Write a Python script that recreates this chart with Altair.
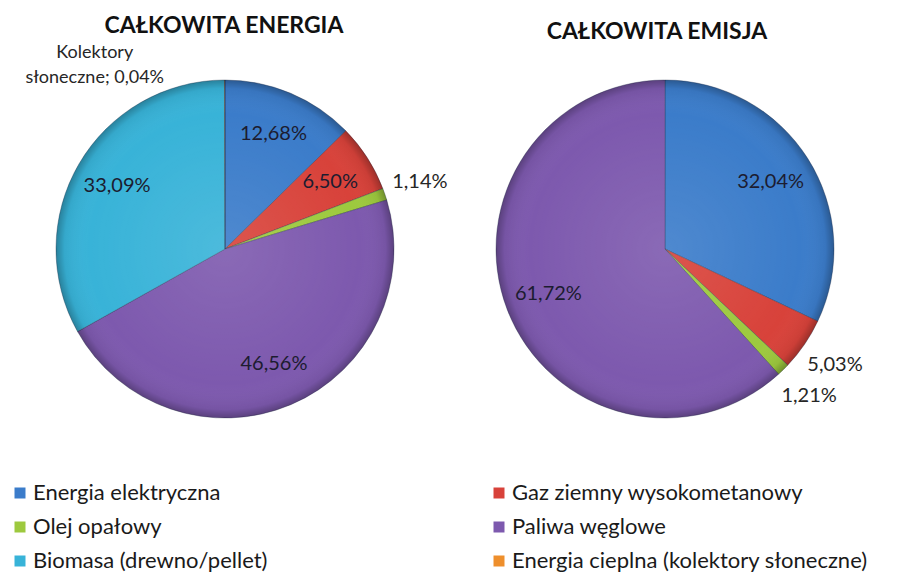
import math
import altair as alt
import pandas as pd

categories = [
    "Energia elektryczna",
    "Gaz ziemny wysokometanowy",
    "Olej opałowy",
    "Paliwa węglowe",
    "Biomasa (drewno/pellet)",
    "Energia cieplna (kolektory słoneczne)",
]
colors = ["#3b7cca", "#d8423a", "#9dc93e", "#7d59ae", "#38b3d8", "#ee8f2c"]

energia_values = [12.68, 6.50, 1.14, 46.56, 33.09, 0.04]
emisja_values = [32.04, 5.03, 1.21, 61.72, 0.0, 0.0]
pies = ["energia", "emisja"]
titles = ["CAŁKOWITA ENERGIA", "CAŁKOWITA EMISJA"]

# label styling choices
outside = {("energia", "Olej opałowy"), ("emisja", "Gaz ziemny wysokometanowy"), ("emisja", "Olej opałowy")}
special = {("energia", "Energia cieplna (kolektory słoneczne)"): "Kolektory\nsłoneczne; "}


def fmt(v):
    return f"{v:.2f}".replace(".", ",") + "%"


rows = []
for pie, vals in zip(pies, [energia_values, emisja_values]):
    for i, (c, v) in enumerate(zip(categories, vals)):
        if v <= 0:
            continue
        lab = fmt(v)
        key = (pie, c)
        rows.append({
            "pie": pie, "category": c, "value": v, "idx": i,
            "lab_in": "" if (key in outside or key in special) else lab,
            "lab_out": lab if key in outside else "",
            "lab_sp": special[key] + lab if key in special else "",
        })
df = pd.DataFrame(rows)

FONT = "Lato"
R = 169
centers = {"energia": (217, 241), "emisja": (657, 241)}

color_scale = alt.Scale(domain=categories, range=colors)
legend = alt.Legend(
    orient="none", legendX=1, legendY=474, columns=2, direction="horizontal", title=None,
    symbolType="square", symbolSize=121, symbolStrokeWidth=0,
    labelFont=FONT, labelFontSize=22, labelColor="#1a1a1a",
    columnPadding=220, rowPadding=12, labelOffset=2, labelLimit=420,
)

shade = {
    "gradient": "radial", "x1": 0.5, "y1": 0.5, "r1": 0, "x2": 0.5, "y2": 0.5, "r2": 0.5,
    "stops": [
        {"offset": 0, "color": "rgba(255,255,255,0.10)"},
        {"offset": 0.8, "color": "rgba(255,255,255,0)"},
        {"offset": 0.95, "color": "rgba(0,0,0,0.06)"},
        {"offset": 1, "color": "rgba(0,0,0,0.28)"},
    ],
}

layers = []
for k, pie in enumerate(pies):
    cx, cy = centers[pie]
    base = alt.Chart(df).transform_filter(alt.datum.pie == pie)
    theta = alt.Theta("value:Q", stack=True)
    order = alt.Order("idx:Q", sort="ascending")
    arcs = base.mark_arc(radius=R, stroke="#1f2a44", strokeOpacity=0.35, strokeWidth=1).encode(
        theta=theta, order=order,
        color=alt.Color("category:N", scale=color_scale, legend=legend if k == 0 else None),
        x=alt.value(cx), y=alt.value(cy),
    )
    overlay = alt.Chart(pd.DataFrame({"pie": [pie]})).mark_arc(
        radius=R, theta=0, theta2=2 * math.pi, fill=shade
    ).encode(x=alt.value(cx), y=alt.value(cy))
    t_in = base.mark_text(radius=125, font=FONT, fontSize=20, color="#1c1c30").encode(
        theta=theta, order=order, text="lab_in:N", x=alt.value(cx), y=alt.value(cy))
    t_out = base.mark_text(radius=206, font=FONT, fontSize=20, color="#262626").encode(
        theta=theta, order=order, text="lab_out:N", x=alt.value(cx), y=alt.value(cy))
    t_sp = base.mark_text(radius=187, dx=-130, dy=-9, font=FONT, fontSize=18, color="#262626",
                          lineBreak="\n", lineHeight=25).encode(
        theta=theta, order=order, text="lab_sp:N", x=alt.value(cx), y=alt.value(cy))
    layers += [arcs, overlay, t_in, t_out, t_sp]

title_pos = [(216, 25), (649, 31)]
for t, (tx, ty) in zip(titles, title_pos):
    layers.append(
        alt.Chart(pd.DataFrame({"t": [t]})).mark_text(
            font=FONT, fontSize=23, fontWeight="bold", color="#111111", baseline="alphabetic"
        ).encode(text="t:N", x=alt.value(tx), y=alt.value(ty))
    )

chart = alt.layer(*layers).properties(
    width=882, height=568, padding=0, autosize="none", background="white"
).configure_view(stroke=None)

chart.save("out.html", embed_options={"renderer": "svg", "actions": False})
